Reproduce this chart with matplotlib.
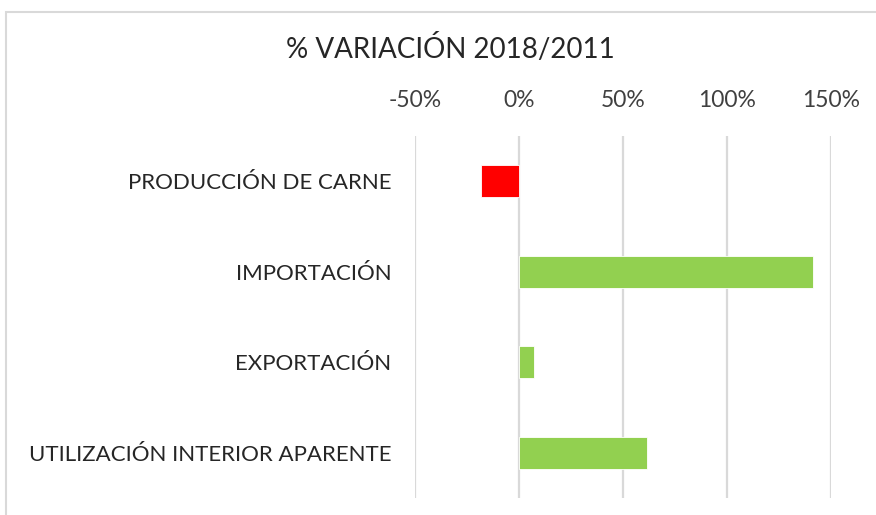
import matplotlib
matplotlib.use("Agg")
import matplotlib.pyplot as plt
from matplotlib.patches import Rectangle
from matplotlib.ticker import FuncFormatter

# ============================================================
# DATA
# ============================================================

categories = [
    "PRODUCCIÓN DE CARNE",
    "IMPORTACIÓN",
    "EXPORTACIÓN",
    "UTILIZACIÓN INTERIOR APARENTE",
]
variation_pct = [-18.2, 141.6, 7.1, 61.4]
x_ticks = [-50, 0, 50, 100, 150]

# ============================================================
# STYLE
# ============================================================

plt.rcParams["font.family"] = ["Lato", "DejaVu Sans"]
text_color = "#262626"
tick_color = "#404040"
grid_color = "#d9d9d9"

colors = ["#FF0000" if v < 0 else "#92D050" for v in variation_pct]

fig = plt.figure(figsize=(8.76, 5.15), dpi=100)
ax = fig.add_axes([0.4737, 0.033, 0.4746, 0.7029])

# chart frame (light gray border, as in the spreadsheet chart)
fig.patches.append(Rectangle((6 / 876, -0.1), 1.2, 1 - 12 / 515 + 0.1,
                             transform=fig.transFigure, fill=False,
                             edgecolor=grid_color, linewidth=1.5))

y_pos = list(range(len(categories)))
ax.barh(y_pos, variation_pct, height=0.35, color=colors,
        edgecolor="white", linewidth=0.6, zorder=3)

ax.set_ylim(len(categories) - 0.5, -0.5)
ax.set_xlim(-50, 150)
ax.set_yticks(y_pos)
ax.set_yticklabels(categories, fontsize=16, color=text_color)
ax.set_xticks(x_ticks)
ax.xaxis.set_major_formatter(FuncFormatter(lambda v, p: f"{v:.0f}%"))
ax.xaxis.tick_top()
ax.tick_params(axis="x", length=0, pad=18, labelsize=16.5, labelcolor=tick_color)
ax.tick_params(axis="y", length=0, pad=17)

ax.grid(axis="x", color=grid_color, linewidth=1.6, zorder=0)
for side in ["top", "bottom", "left", "right"]:
    ax.spines[side].set_visible(False)

fig.text(450 / 876, 1 - 49 / 515, "% VARIACIÓN 2018/2011", ha="center",
         va="center", fontsize=20, color=text_color)

fig.savefig("out.png", dpi=100)
